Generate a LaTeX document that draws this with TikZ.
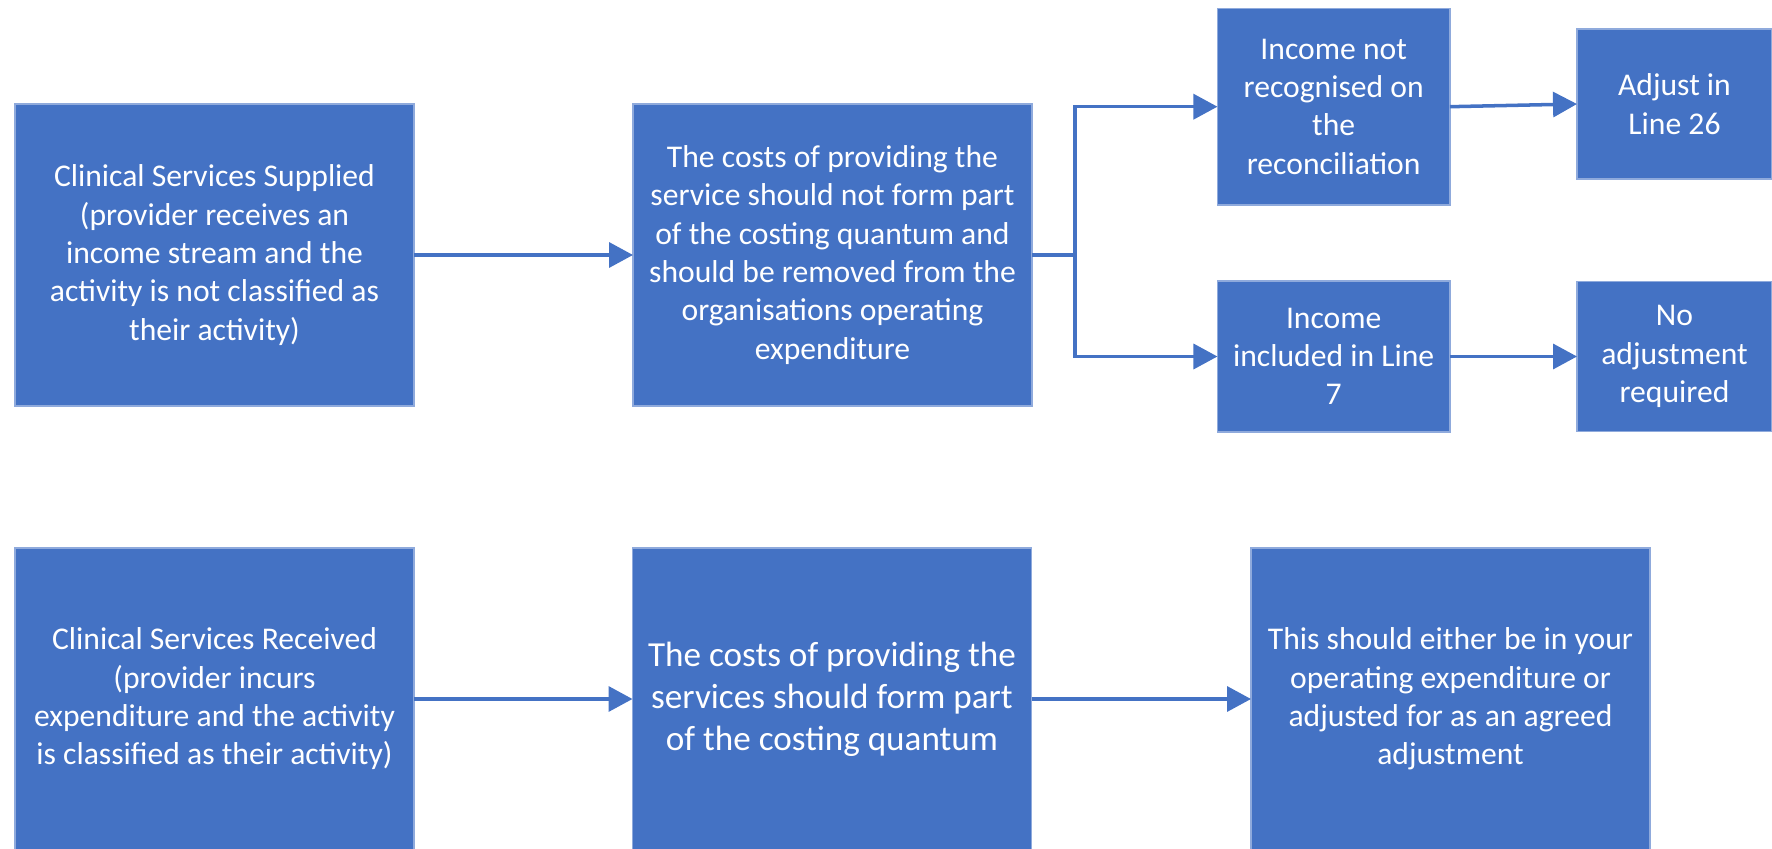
\documentclass[tikz,border=0pt]{standalone}
\usepackage{fontspec}
\setmainfont{Carlito}
\usetikzlibrary{arrows.meta}
\definecolor{fillblue}{HTML}{4472C4}
\definecolor{edgeblue}{HTML}{8FAADC}

\begin{document}
\begin{tikzpicture}[
        X/.style = {rectangle, draw=edgeblue, line width=0.5pt,% blue boxes
                fill=fillblue, text=white, align=center,
                inner sep=0pt, outer sep=0pt,
                font=\fontsize{9}{10.9}\selectfont},
        W/.style = {X, minimum width=3.99cm, minimum height=3.02cm},% wide boxes
        S/.style = {X, minimum width=2.325cm},% small boxes, middle column
        T/.style = {X, minimum width=1.95cm, minimum height=1.5cm},% last column
        L/.style = {draw=fillblue, line width=1pt},% connectors
        L/.append style = {-{Triangle[length=2.4mm, width=2.5mm]}},
    ]
    \useasboundingbox (0,0) rectangle (17.72,8.48);
    % upper row: services supplied
    \node[W] (sup)  at (2.145,5.93)  {Clinical Services Supplied\\(provider receives an\\income stream and the\\activity is not classified as\\their activity)};
    \node[W] (rem)  at (8.325,5.93)  {The costs of providing the\\service should not form part\\of the costing quantum and\\should be removed from the\\organisations operating\\expenditure};
    \node[S, minimum height=1.965cm] (notrec) at (13.337,7.413) {Income not\\recognised on\\the\\reconciliation};
    \node[S, minimum height=1.51cm]  (incl)   at (13.337,4.915) {Income\\included in Line\\7};
    \node[T] (adj)   at (16.745,7.44)  {Adjust in\\Line 26};
    \node[T] (noadj) at (16.745,4.915) {No\\adjustment\\required};
    \coordinate (J) at (10.75,5.93);
    \draw[L] (sup) -- (rem);
    \draw[line width=1pt, fillblue] (rem.east) -- (J);
    \draw[L] (J) |- (notrec.west);
    \draw[L] (J) |- (incl.west);
    \draw[L] (notrec.east) -- (adj.west);
    \draw[L] (incl) -- (noadj);
    % lower row: services received
    \node[W] (rec)  at (2.145,1.49)  {Clinical Services Received\\(provider incurs\\expenditure and the activity\\is classified as their activity)};
    \node[W, font=\fontsize{10}{12}\selectfont] (form) at (8.32,1.49) {The costs of providing the\\services should form part\\of the costing quantum};
    \node[W] (either) at (14.505,1.49) {This should either be in your\\operating expenditure or\\adjusted for as an agreed\\adjustment};
    \draw[L] (rec) -- (form);
    \draw[L] (form) -- (either);
\end{tikzpicture}
\end{document}
